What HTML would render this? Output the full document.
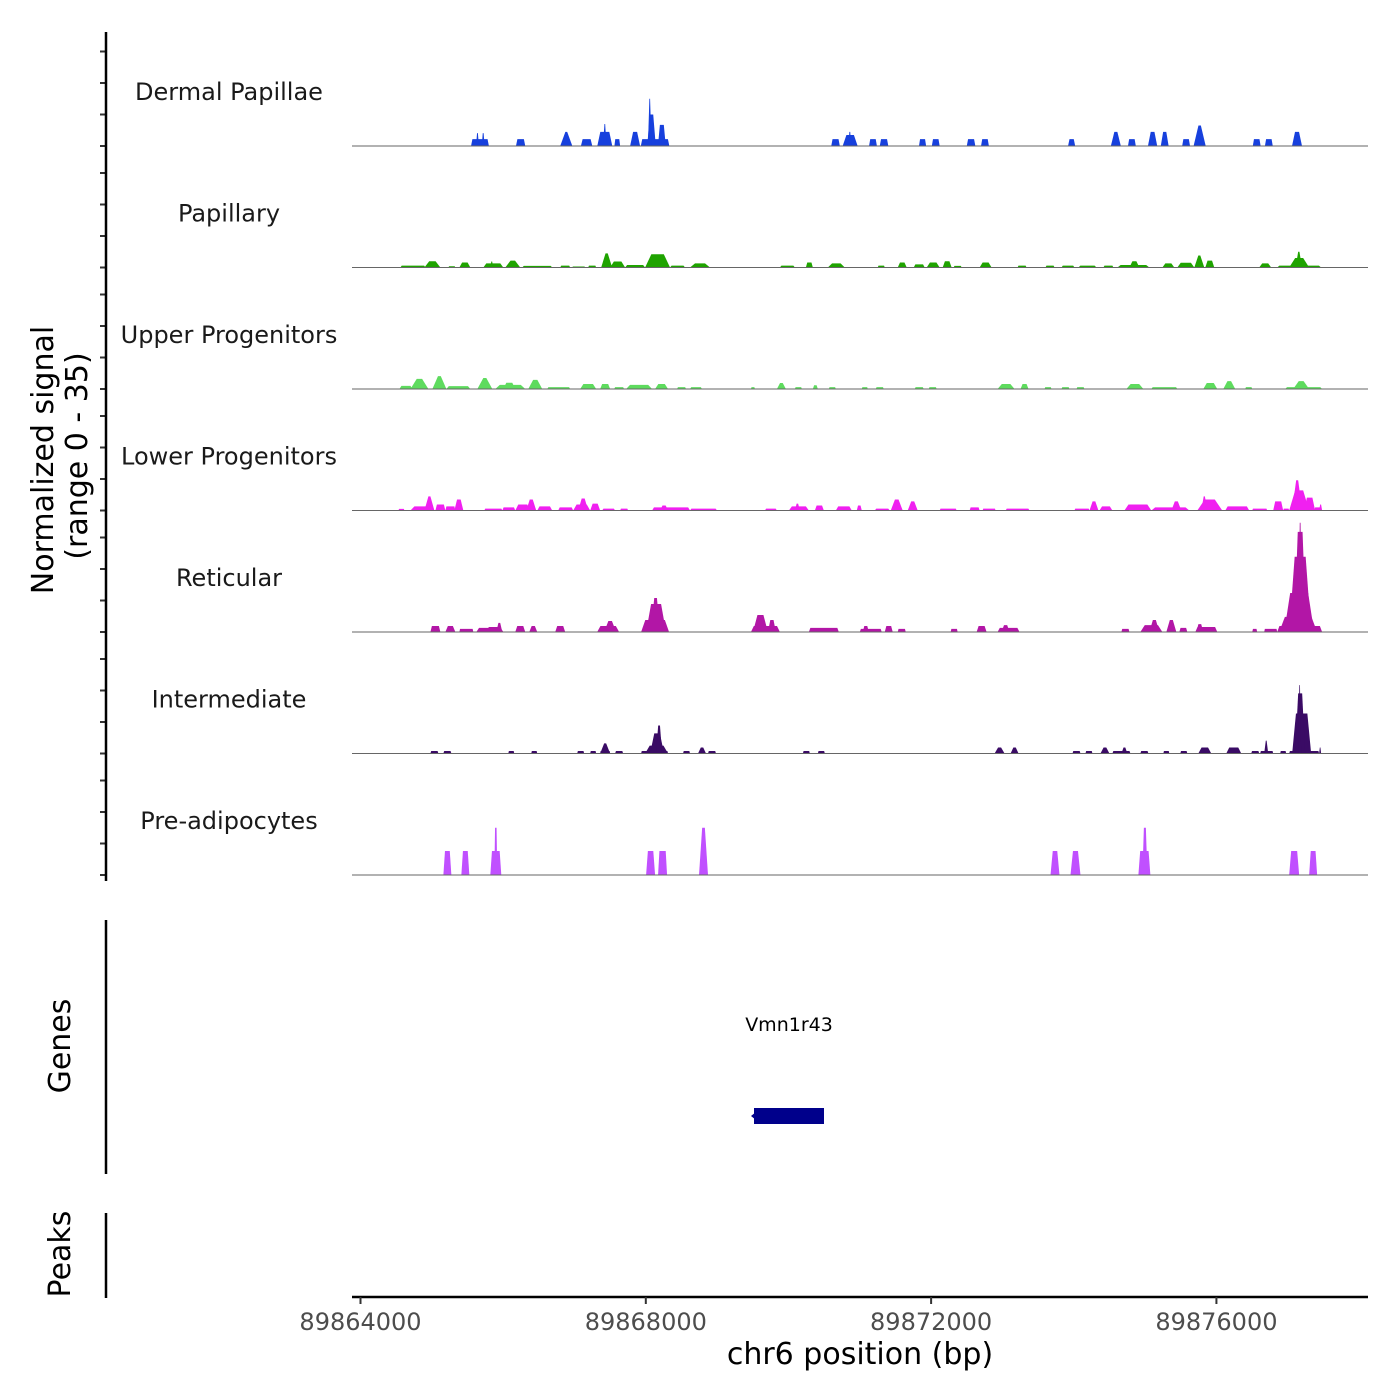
<!DOCTYPE html>
<html><head><meta charset="utf-8"><style>
html,body{margin:0;padding:0;background:#fff;}
svg{display:block;font-family:"DejaVu Sans","Liberation Sans",sans-serif;}
</style></head><body>
<svg id="chart" width="1400" height="1400" viewBox="0 0 1400 1400" xmlns="http://www.w3.org/2000/svg">
<rect width="1400" height="1400" fill="#fff"/>
<g id="tracks"></g>
<g id="yaxis"></g>
<text transform="translate(53,460) rotate(-90)" text-anchor="middle" font-size="30" fill="#000">Normalized signal</text>
<text transform="translate(87,456) rotate(-90)" text-anchor="middle" font-size="30" fill="#000">(range 0 - 35)</text>
<line x1="106" y1="920" x2="106" y2="1174" stroke="#000" stroke-width="2.5"/>
<text transform="translate(70,1046) rotate(-90)" text-anchor="middle" font-size="30" fill="#000">Genes</text>
<text x="789" y="1031" text-anchor="middle" font-size="19" fill="#000">Vmn1r43</text>
<rect x="754" y="1108" width="70" height="16" fill="#00008B"/>
<path d="M756,1112 L751,1116 L756,1120 Z" fill="#00008B"/>
<line x1="106" y1="1213" x2="106" y2="1298" stroke="#000" stroke-width="2.5"/>
<text transform="translate(70,1254) rotate(-90)" text-anchor="middle" font-size="30" fill="#000">Peaks</text>
<line x1="352" y1="1297" x2="1368" y2="1297" stroke="#000" stroke-width="2.5"/>
<g id="xaxis"></g>
<text x="860" y="1364" text-anchor="middle" font-size="30" fill="#000">chr6 position (bp)</text>
</svg>
<script>
const regionStart = 89864000;
const xTickValues = [89864000, 89868000, 89872000, 89876000];
const xTickLabels = ["89864000", "89868000", "89872000", "89876000"];
const yTickValues = [0, 10, 20, 30];
const trackNames = ["Dermal Papillae","Papillary","Upper Progenitors","Lower Progenitors","Reticular","Intermediate","Pre-adipocytes"];
const trackColors = ["#1740DD","#1FA300","#5EDB5E","#F020F0","#B216A6","#3A0B65","#C050FF"];
// peaks: [start offset bp, end offset bp, signal, top fraction]
const dermal = [[1550,1800,2.2,0.85],[1620,1660,4.1,0.3],[1700,1740,4.1,0.3],[2180,2310,2.2,0.7],[2800,2970,4.5,0.15],[3090,3250,2.2,0.7],[3320,3530,4.5,0.6],[3400,3450,7,0.2],[3560,3640,2.2,0.7],[3780,3920,4.5,0.4],[3930,4330,2.2,0.9],[4020,4140,10,0.4],[4030,4080,15,0.2],[4170,4280,6.7,0.5],[6600,6720,2.2,0.7],[6760,6970,3.5,0.5],[6840,6880,4.5,0.3],[7130,7240,2.2,0.7],[7280,7400,2.2,0.7],[7830,7930,2.2,0.7],[8010,8120,2.2,0.7],[8500,8620,2.2,0.7],[8700,8810,2.2,0.7],[9920,10020,2.2,0.6],[10520,10660,4.5,0.3],[10760,10870,2.2,0.7],[11040,11170,4.5,0.4],[11220,11330,4.5,0.4],[11520,11630,2.2,0.7],[11680,11850,6.5,0.2],[12510,12620,2.2,0.7],[12680,12790,2.2,0.7],[13060,13200,4.5,0.4]];
const papillary = [[560,910,0.6,0.9],[896,1120,2,0.4],[1232,1330,0.4,0.8],[1386,1540,1.6,0.5],[1722,2002,1.3,0.7],[1820,1860,1.9,0.3],[2030,2240,2.2,0.3],[2268,2688,0.5,0.9],[2800,2940,0.6,0.8],[2968,3150,0.3,0.9],[3192,3304,0.6,0.8],[3374,3528,4.5,0.2],[3500,3710,1.9,0.5],[3710,3990,0.8,0.8],[3990,4340,4.2,0.5],[4340,4550,0.6,0.8],[4620,4900,1.3,0.5],[5880,6090,0.6,0.8],[6244,6342,1.6,0.6],[6552,6790,1.3,0.5],[7252,7350,0.6,0.8],[7532,7658,1.6,0.5],[7756,7910,1,0.7],[7938,8120,1.6,0.5],[8162,8288,2,0.5],[8316,8428,0.5,0.8],[8680,8848,1.6,0.5],[9212,9338,0.6,0.8],[9604,9730,0.6,0.8],[9828,10010,0.6,0.8],[10066,10318,0.6,0.8],[10416,10556,0.6,0.8],[10612,11060,0.8,0.8],[10780,10920,2,0.4],[11242,11410,1.3,0.5],[11452,11690,1.5,0.6],[11690,11830,3.8,0.2],[11844,11970,2.2,0.5],[12600,12768,1.3,0.5],[12852,13468,0.6,0.9],[13020,13300,3,0.4],[13110,13200,5,0.2]];
const upper = [[546,728,1,0.7],[700,952,3.2,0.3],[1008,1204,4.1,0.2],[1204,1540,0.9,0.8],[1638,1848,3.5,0.2],[1890,2310,1.3,0.7],[2002,2170,2,0.5],[2352,2548,2.9,0.3],[2618,2940,0.6,0.9],[3080,3304,1.6,0.6],[3360,3500,1.6,0.6],[3556,3696,0.6,0.8],[3724,4088,1.3,0.7],[4130,4312,1.6,0.5],[4438,4564,0.6,0.8],[4620,4788,0.6,0.8],[5474,5530,0.6,0.7],[5838,5964,1.9,0.3],[6090,6188,0.6,0.8],[6342,6412,1.2,0.5],[6566,6664,0.6,0.8],[7028,7112,0.6,0.8],[7224,7336,0.6,0.8],[7770,7896,0.6,0.8],[7966,8078,0.6,0.8],[8932,9170,1.6,0.5],[9254,9366,1.6,0.5],[9590,9688,0.6,0.8],[9828,9940,0.6,0.8],[10038,10150,0.6,0.8],[10738,10976,1.6,0.5],[11088,11452,0.6,0.9],[11816,12012,1.9,0.5],[12096,12264,2.5,0.3],[12404,12502,0.6,0.8],[12964,13482,0.6,0.9],[13076,13300,2.5,0.3]];
const lower = [[532,616,0.5,0.8],[700,980,1.3,0.6],[896,1036,4.5,0.2],[1050,1190,1.9,0.7],[1190,1330,1.3,0.8],[1316,1442,3.5,0.4],[1736,1988,0.6,0.9],[1988,2170,1,0.8],[2170,2380,1.9,0.6],[2324,2464,3.5,0.3],[2478,2688,1.3,0.7],[2772,2982,1,0.8],[2982,3220,1.9,0.6],[3052,3192,3.8,0.3],[3220,3360,2.2,0.5],[3388,3570,0.6,0.8],[3640,3752,0.6,0.8],[4088,4620,1,0.9],[4200,4312,1.6,0.4],[4620,4998,0.6,0.9],[5670,5838,0.6,0.8],[6006,6286,1.3,0.7],[6090,6160,2.2,0.3],[6370,6496,1.6,0.6],[6664,6888,1.3,0.7],[6958,7028,1.6,0.5],[7210,7420,0.6,0.8],[7434,7602,3.5,0.3],[7672,7812,2.9,0.3],[8120,8358,0.6,0.9],[8540,8680,1,0.8],[8722,8904,0.6,0.9],[9044,9380,0.6,0.9],[10010,10220,0.6,0.9],[10220,10346,2.9,0.3],[10360,10542,1.3,0.6],[10710,11088,1.9,0.7],[11088,11620,1,0.8],[11368,11508,2.9,0.3],[11732,12082,3.5,0.4],[11788,11872,4.5,0.2],[12124,12460,1.3,0.8],[12502,12712,0.6,0.9],[12796,12936,2.9,0.6],[12936,13020,0.6,0.8],[13020,13300,6.4,0.4],[13062,13202,9.6,0.2],[13230,13384,4.1,0.5],[13370,13468,1,0.7],[13440,13482,1.9,0.3]];
const reticular = [[980,1120,1.9,0.7],[1190,1330,1.9,0.5],[1386,1582,1,0.9],[1624,2002,1.3,0.8],[1750,2002,1.6,0.6],[1904,1988,2.9,0.3],[2170,2310,1.9,0.6],[2366,2478,1.9,0.4],[2730,2870,1.9,0.6],[3318,3626,1.9,0.7],[3416,3584,3.5,0.3],[3934,4326,3.8,0.7],[4004,4284,8.9,0.5],[4074,4200,10.8,0.3],[5474,5880,1.9,0.8],[5502,5712,5.4,0.4],[5712,5824,3.8,0.4],[6286,6706,1.3,0.9],[7000,7308,1,0.9],[7042,7126,1.9,0.5],[7350,7462,1.9,0.6],[7532,7644,1,0.8],[8274,8372,1,0.8],[8638,8778,1.9,0.6],[8932,9240,1.3,0.8],[8988,9100,2.2,0.4],[10668,10780,1,0.8],[10934,11242,2.2,0.6],[11060,11200,3.8,0.3],[11298,11438,3.8,0.3],[11480,11592,1.3,0.7],[11704,12012,1.6,0.8],[11718,11816,2.5,0.4],[12502,12572,1,0.7],[12670,12852,1,0.9],[12852,13482,1.9,0.9],[12880,13412,4.8,0.7],[12950,13370,12.4,0.6],[13020,13328,23.9,0.5],[13090,13258,31.8,0.4],[13146,13202,34.7,0.2]];
const intermediate = [[980,1092,0.8,0.8],[1162,1274,0.8,0.8],[2072,2156,0.8,0.8],[2394,2478,0.8,0.8],[3038,3136,0.8,0.8],[3220,3304,0.8,0.8],[3360,3500,0.8,0.9],[3360,3500,3.2,0.2],[3570,3682,0.8,0.8],[3934,4312,0.8,0.95],[3990,4312,2.5,0.6],[4060,4256,6.4,0.4],[4144,4228,8.9,0.3],[4522,4620,0.8,0.8],[4732,4844,1.9,0.3],[4872,4984,0.8,0.8],[6202,6300,0.8,0.8],[6412,6510,0.8,0.8],[8890,9030,1.9,0.3],[9114,9226,1.9,0.3],[9982,10094,0.8,0.8],[10164,10262,0.8,0.8],[10374,10500,1.9,0.3],[10542,10794,0.8,0.9],[10668,10752,1.9,0.3],[10934,11046,0.8,0.8],[11256,11340,0.8,0.8],[11494,11592,0.8,0.8],[11746,11928,1.9,0.5],[12138,12348,1.9,0.6],[12488,12600,0.8,0.8],[12614,12796,0.8,0.9],[12670,12726,4.1,0.2],[12894,12978,0.8,0.8],[13020,13440,0.8,0.95],[13062,13328,12.7,0.6],[13104,13244,19.1,0.4],[13146,13188,21.7,0.2],[13440,13468,1.9,0.3]];
const preadipocytes = [[1162,1274,7.6,0.6],[1414,1526,7.6,0.6],[1820,1974,7.6,0.7],[1876,1918,15,0.5],[4004,4130,7.6,0.6],[4172,4298,7.6,0.7],[4746,4872,15,0.3],[9674,9800,7.6,0.5],[9954,10094,7.6,0.5],[10906,11074,7.6,0.7],[10962,11032,15,0.4],[13020,13160,7.6,0.6],[13300,13412,7.6,0.6]];
const trackData = [dermal, papillary, upper, lower, reticular, intermediate, preadipocytes];

const NS = "http://www.w3.org/2000/svg";
const xScale = bp => 360.5 + (bp - regionStart) / 14.02;
const offX = off => xScale(regionStart + off);
const trackBase = i => 146 + i * 121.5;
const yScale = (v, i) => trackBase(i) - v * 3.15;

const tracksG = document.getElementById('tracks');
const yG = document.getElementById('yaxis');
const xG = document.getElementById('xaxis');

trackData.forEach((peaks, i) => {
  const g = document.createElementNS(NS, 'g');
  
  
  peaks.forEach(p => {
    const x1 = offX(p[0]), x2 = offX(p[1]);
    const inset = (x2 - x1) * (1 - p[3]) / 2;
    const b = trackBase(i), yt = yScale(p[2], i);
    const poly = document.createElementNS(NS, 'polygon');
    poly.setAttribute('points', `${x1},${b} ${x1+inset},${yt} ${x2-inset},${yt} ${x2},${b}`);
    poly.setAttribute('fill', trackColors[i]);
    
    
    g.appendChild(poly);
  });
  const bl = document.createElementNS(NS, 'line');
  bl.setAttribute('x1', 352); bl.setAttribute('x2', 1368);
  bl.setAttribute('y1', trackBase(i)); bl.setAttribute('y2', trackBase(i));
  bl.setAttribute('stroke', '#666'); bl.setAttribute('stroke-width', '1');
  
  
  g.appendChild(bl);
  const lab = document.createElementNS(NS, 'text');
  lab.setAttribute('x', 229); lab.setAttribute('y', trackBase(i) - 46);
  lab.setAttribute('text-anchor', 'middle'); lab.setAttribute('font-size', '24');
  lab.setAttribute('fill', '#1a1a1a');
  
  
  lab.textContent = trackNames[i];
  g.appendChild(lab);
  tracksG.appendChild(g);
  yTickValues.forEach(v => {
    const t = document.createElementNS(NS, 'line');
    t.setAttribute('x1', 100); t.setAttribute('x2', 106);
    t.setAttribute('y1', yScale(v, i)); t.setAttribute('y2', yScale(v, i));
    t.setAttribute('stroke', '#333'); t.setAttribute('stroke-width', '2');
    
    
    yG.appendChild(t);
  });
});
const yl = document.createElementNS(NS, 'line');
yl.setAttribute('x1', 106); yl.setAttribute('x2', 106); yl.setAttribute('y1', 32); yl.setAttribute('y2', 881);
yl.setAttribute('stroke', '#000'); yl.setAttribute('stroke-width', '2.5');


yG.appendChild(yl);

xTickValues.forEach((v, k) => {
  const x = xScale(v);
  const t = document.createElementNS(NS, 'line');
  t.setAttribute('x1', x); t.setAttribute('x2', x); t.setAttribute('y1', 1297); t.setAttribute('y2', 1304);
  t.setAttribute('stroke', '#333'); t.setAttribute('stroke-width', '2');
  
  
  xG.appendChild(t);
  const l = document.createElementNS(NS, 'text');
  l.setAttribute('x', x); l.setAttribute('y', 1330);
  l.setAttribute('text-anchor', 'middle'); l.setAttribute('font-size', '24'); l.setAttribute('fill', '#4d4d4d');
  
  
  l.textContent = xTickLabels[k];
  xG.appendChild(l);
});
</script>
</body></html>
